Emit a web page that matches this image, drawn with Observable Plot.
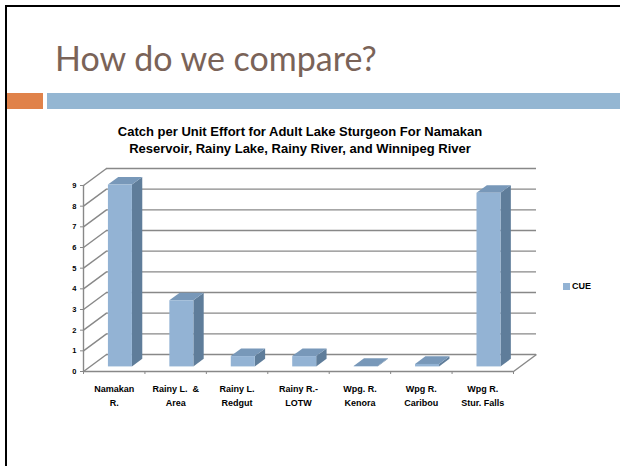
<!DOCTYPE html>
<html>
<head>
<meta charset="utf-8">
<script src="https://cdn.jsdelivr.net/npm/d3@7"></script>
<script src="https://cdn.jsdelivr.net/npm/@observablehq/plot@0.6"></script>
<style>
  html, body { margin: 0; padding: 0; background: #fff; }
  #slide { position: relative; width: 620px; height: 466px; overflow: hidden; background: #fff; }
  #slide svg { position: absolute; left: 0; top: 0; }
  .abs { position: absolute; z-index: 2; }
  #border-left { left: 5px; top: 5px; width: 2px; height: 461px; background: #000; }
  #border-top { left: 5px; top: 5px; width: 615px; height: 2px; background: #000; }
  #accent-orange { left: 7px; top: 93px; width: 36px; height: 16px; background: #e0824a; }
  #accent-blue { left: 47px; top: 93px; width: 573px; height: 16px; background: #94b6d2; }
  #slide-title { left: 55px; top: 37px; font-family: "Lato", sans-serif; font-size: 34px; color: #7a6358; white-space: nowrap; }
  #chart-title { left: 50px; top: 123px; width: 500px; text-align: center; font-family: "Liberation Sans", Arial, sans-serif; font-weight: bold; font-size: 13px; line-height: 17px; color: #000; }
  #legend { left: 563px; top: 281px; font-family: "Liberation Sans", Arial, sans-serif; font-weight: bold; font-size: 9px; color: #000; display: flex; align-items: center; gap: 2px; }
  #legend .sw { width: 7px; height: 7px; background: #93b3d4; display: inline-block; }
</style>
</head>
<body>
<div id="slide">
  <div class="abs" id="border-left"></div>
  <div class="abs" id="border-top"></div>
  <div class="abs" id="slide-title"></div>
  <div class="abs" id="accent-orange"></div>
  <div class="abs" id="accent-blue"></div>
  <div class="abs" id="chart-title"></div>
  <div class="abs" id="legend"><span class="sw"></span><span id="legend-label"></span></div>
</div>
<script>
// Catch per unit effort by site
const slideTitle = "How do we compare?";
const chartTitleLines = [
  "Catch per Unit Effort for Adult Lake Sturgeon For Namakan",
  "Reservoir, Rainy Lake, Rainy River, and Winnipeg River"
];
const seriesName = "CUE";
const categories = [
  "Namakan\nR.",
  "Rainy L.  &\nArea",
  "Rainy L.\nRedgut",
  "Rainy R.-\nLOTW",
  "Wpg. R.\nKenora",
  "Wpg R.\nCaribou",
  "Wpg R.\nStur. Falls"
];
const cue = [8.8, 3.2, 0.5, 0.5, 0.02, 0.12, 8.4];
const yTicks = [0, 1, 2, 3, 4, 5, 6, 7, 8, 9];

document.getElementById("slide-title").textContent = slideTitle;
document.getElementById("chart-title").innerHTML = chartTitleLines.join("<br>");
document.getElementById("legend-label").textContent = seriesName;

// Frame geometry (pixels)
const W = 620, H = 466;
const mL = 83, mR = 107, mT = 185, mB = 95;
const n = categories.length;
const yMax = yTicks[yTicks.length - 1];
const pxX = (W - mL - mR) / n;      // pixels per category
const pxY = (H - mT - mB) / yMax;   // pixels per unit of CUE

// 3-D depth of the floor / walls, expressed in data units
const DX = 23 / pxX, DY = 17 / pxY;
// bars sit in the middle of the depth
const f0 = 0.27, f1 = 0.72;
const halfW = 12 / pxX;

const faceFront = "#93b3d4", faceSide = "#5f7d9a", faceTop = "#7898b9";
const gridColor = "#888888";

const bars = cue.map((v, i) => {
  const x1 = i + 0.5 - halfW + f0 * DX;
  const x2 = i + 0.5 + halfW + f0 * DX;
  return {i, v, x1, x2, y0: f0 * DY, yTop: v + f0 * DY};
});
const ddx = (f1 - f0) * DX, ddy = (f1 - f0) * DY;
const sidePts = bars.flatMap(b => [
  {i: b.i, x: b.x2, lo: b.y0, hi: b.yTop},
  {i: b.i, x: b.x2 + ddx, lo: b.y0 + ddy, hi: b.yTop + ddy}
]);
const topPts = bars.flatMap(b => [
  {i: b.i, y: b.yTop, a: b.x1, b: b.x2},
  {i: b.i, y: b.yTop + ddy, a: b.x1 + ddx, b: b.x2 + ddx}
]);
const bounds = d3.range(n + 1);

const chart = Plot.plot({
  width: W,
  height: H,
  marginLeft: mL,
  marginRight: mR,
  marginTop: mT,
  marginBottom: mB,
  style: {background: "transparent", fontFamily: "Liberation Sans, Arial, sans-serif", overflow: "visible"},
  x: {domain: [0, n], axis: null},
  y: {domain: [0, yMax], axis: null},
  marks: [
    // side-wall gridlines running into depth
    Plot.link(yTicks, {x1: 0, y1: d => d, x2: DX, y2: d => d + DY, stroke: gridColor, strokeWidth: 1.4}),
    // back-wall gridlines
    Plot.ruleY(yTicks, {y: d => d + DY, x1: DX, x2: n + DX, stroke: gridColor, strokeWidth: 1.4}),
    // floor front edge and right edge
    Plot.ruleY([0], {x1: 0, x2: n, stroke: gridColor, strokeWidth: 1.4}),
    Plot.link([0], {x1: n, y1: 0, x2: n + DX, y2: DY, stroke: gridColor, strokeWidth: 1.4}),
    // category boundary ticks
    Plot.ruleX(bounds, {y1: 0, y2: -3 / pxY, stroke: gridColor, strokeWidth: 1}),
    // value axis
    Plot.ruleX([0], {y1: 0, y2: yMax, stroke: gridColor, strokeWidth: 1.4}),
    Plot.axisY(yTicks, {anchor: "left", tickSize: 3, tickPadding: 4, fontSize: 7.5, fontWeight: "bold", stroke: gridColor, fill: "#000"}),
    // bars: side, top and front faces
    Plot.areaY(sidePts, {x: "x", y1: "lo", y2: "hi", z: "i", fill: faceSide, curve: "linear"}),
    Plot.areaX(topPts, {y: "y", x1: "a", x2: "b", z: "i", fill: faceTop, curve: "linear"}),
    Plot.rect(bars, {x1: "x1", x2: "x2", y1: "y0", y2: "yTop", fill: faceFront}),
    // category labels
    Plot.text(categories, {x: (d, i) => i + 0.5, y: 0, text: d => d, dy: 11, lineAnchor: "top", fontSize: 9, fontWeight: "bold", fill: "#000", lineHeight: 1.5})
  ]
});
document.getElementById("slide").appendChild(chart);
</script>
</body>
</html>
